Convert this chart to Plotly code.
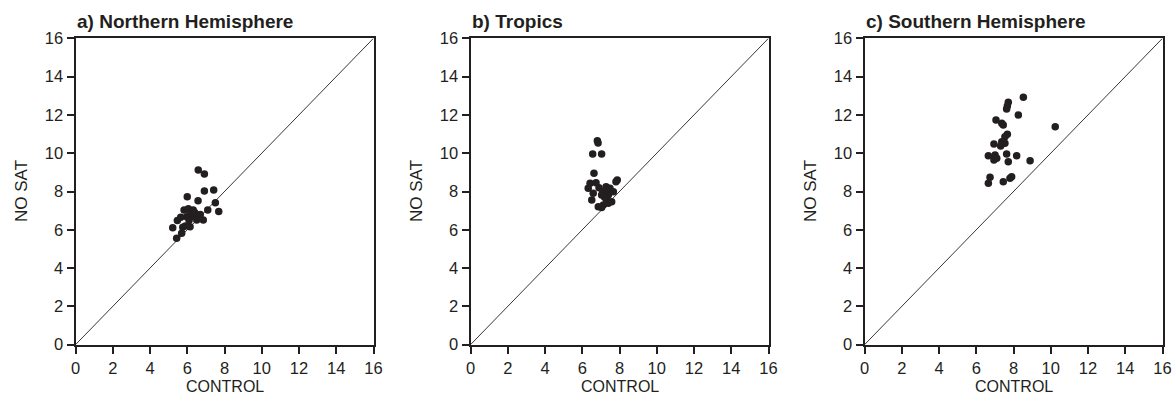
import plotly.graph_objects as go

# Panel a) Northern Hemisphere
nh_control = [6.59, 6.92, 6.92, 7.42, 6.00, 6.58, 7.51, 7.10, 7.69, 5.83, 6.06, 6.32, 6.19, 6.42,
              5.97, 5.65, 5.47, 6.51, 6.86, 6.65, 5.22, 5.76, 6.15, 5.70, 5.43, 6.20, 6.40, 6.10,
              6.70, 5.90]
nh_nosat = [9.12, 8.91, 8.02, 8.08, 7.73, 7.52, 7.41, 7.03, 6.95, 7.03, 7.10, 7.03, 6.86, 6.77,
            6.68, 6.65, 6.48, 6.51, 6.51, 6.65, 6.11, 6.13, 6.16, 5.82, 5.56, 6.70, 6.90, 6.50,
            6.80, 6.20]

# Panel b) Tropics
tr_control = [6.81, 6.85, 6.56, 7.04, 6.63, 6.42, 6.74, 6.32, 7.81, 7.88, 7.28, 7.49, 6.59, 6.51,
              7.04, 7.40, 7.31, 7.58, 7.13, 7.40, 6.86, 7.04, 7.67, 7.10, 7.20, 6.90, 7.30]
tr_nosat = [10.65, 10.53, 9.96, 9.96, 8.95, 8.43, 8.46, 8.17, 8.51, 8.60, 8.25, 8.17, 7.91, 7.56,
            7.82, 7.82, 7.56, 7.47, 7.30, 7.38, 7.21, 7.17, 7.99, 8.00, 7.70, 8.20, 8.10]

# Panel c) Southern Hemisphere
sh_control = [8.53, 7.72, 7.67, 7.63, 8.26, 7.06, 7.37, 7.45, 10.24, 7.67, 7.54, 6.95, 7.37, 7.54,
              7.31, 6.65, 7.01, 6.95, 7.10, 7.63, 8.17, 7.72, 8.89, 6.74, 6.65, 7.45, 7.81, 7.90]
sh_nosat = [12.92, 12.66, 12.46, 12.31, 12.00, 11.73, 11.56, 11.47, 11.38, 10.99, 10.86, 10.48,
            10.60, 10.52, 10.38, 9.87, 9.91, 9.64, 9.73, 9.96, 9.87, 9.56, 9.61, 8.74, 8.43, 8.51,
            8.69, 8.77]

titles = ["a) Northern Hemisphere", "b) Tropics", "c) Southern Hemisphere"]
x_title = "CONTROL"
y_title = "NO SAT"
tick_vals = [0, 2, 4, 6, 8, 10, 12, 14, 16]
tick_text = ["0", "2", "4", "6", "8", "10", "12", "14", "16"]

W, H = 1172, 396
x_left = [75.5, 470.5, 864.5]
plot_w = 298.0
y_top, y_bot = 38.3, 344.7

fig = go.Figure()
panels = [(nh_control, nh_nosat), (tr_control, tr_nosat), (sh_control, sh_nosat)]
font_family = "Liberation Sans, Arial, sans-serif"
ink = "#231f20"

for i, (xs, ys) in enumerate(panels):
    n = "" if i == 0 else str(i + 1)
    xa, ya = "x" + n, "y" + n
    fig.add_trace(go.Scatter(x=[0, 16], y=[0, 16], mode="lines",
                             line=dict(color=ink, width=0.9), xaxis=xa, yaxis=ya,
                             showlegend=False, hoverinfo="skip"))
    fig.add_trace(go.Scatter(x=xs, y=ys, mode="markers",
                             marker=dict(color=ink, size=7.5, line=dict(width=0)),
                             xaxis=xa, yaxis=ya, showlegend=False))
    d0 = x_left[i] / W
    d1 = (x_left[i] + plot_w) / W
    axis_common = dict(range=[0, 16], tickvals=tick_vals, ticktext=tick_text,
                       showgrid=False, zeroline=False, showline=True, linecolor=ink,
                       linewidth=2, ticks="outside", ticklen=7, tickwidth=2,
                       tickcolor=ink, mirror=True, automargin=False, fixedrange=True,
                       tickfont=dict(family=font_family, size=16.5, color=ink))
    fig.update_layout(**{
        ("xaxis" + n): dict(domain=[d0, d1], anchor=ya, **axis_common),
        ("yaxis" + n): dict(domain=[(H - y_bot) / H, (H - y_top) / H], anchor=xa,
                            **axis_common),
    })
    fig.add_annotation(text="<b>" + titles[i] + "</b>", xref="paper", yref="paper",
                       x=(x_left[i] - 1) / W, y=(H - 34) / H, xanchor="left", yanchor="bottom",
                       showarrow=False, font=dict(family=font_family, size=19, color=ink))
    fig.add_annotation(text=x_title, xref="paper", yref="paper",
                       x=(x_left[i] + plot_w / 2) / W, y=0,
                       xanchor="center", yanchor="bottom", borderpad=0,
                       showarrow=False, font=dict(family=font_family, size=16, color=ink))
    fig.add_annotation(text=y_title, xref="paper", yref="paper", textangle=-90,
                       x=(x_left[i] - 54) / W, y=(H - (y_top + y_bot) / 2) / H,
                       xanchor="center", yanchor="middle",
                       showarrow=False, font=dict(family=font_family, size=17, color=ink))

fig.update_layout(width=W, height=H, margin=dict(l=0, r=0, t=0, b=0),
                  paper_bgcolor="white", plot_bgcolor="white")

fig.write_html("out.html")
